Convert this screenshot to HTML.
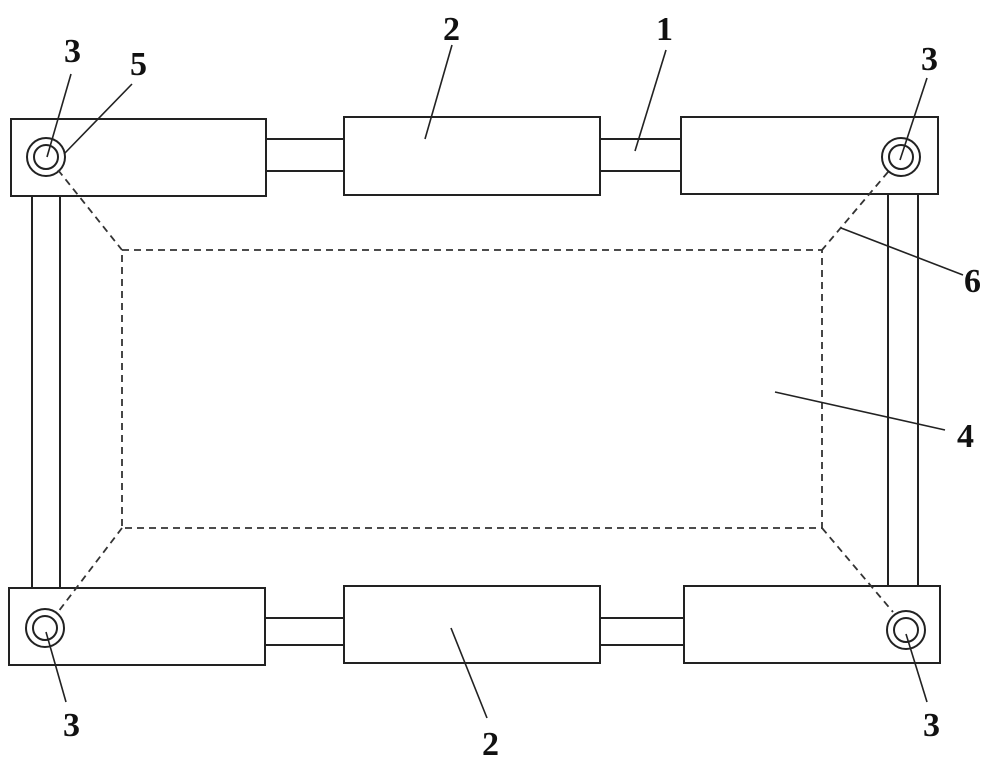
<!DOCTYPE html>
<html><head><style>
html,body{margin:0;padding:0;background:#fff;}
svg{display:block}
text{font-family:"Liberation Serif",serif;font-weight:bold;font-size:34px;fill:#111}
</style></head><body>
<svg width="1000" height="764" viewBox="0 0 1000 764">
<g fill="none" stroke="#222" stroke-width="2">
<!-- top -->
<rect x="11" y="119" width="255" height="77"/>
<rect x="344" y="117" width="256" height="78"/>
<rect x="681" y="117" width="257" height="77"/>
<line x1="266" y1="139" x2="344" y2="139"/><line x1="266" y1="171" x2="344" y2="171"/>
<line x1="600" y1="139" x2="681" y2="139"/><line x1="600" y1="171" x2="681" y2="171"/>
<!-- bottom -->
<rect x="9" y="588" width="256" height="77"/>
<rect x="344" y="586" width="256" height="77"/>
<rect x="684" y="586" width="256" height="77"/>
<line x1="265" y1="618" x2="344" y2="618"/><line x1="265" y1="645" x2="344" y2="645"/>
<line x1="600" y1="618" x2="684" y2="618"/><line x1="600" y1="645" x2="684" y2="645"/>
<!-- side rods -->
<line x1="32" y1="196" x2="32" y2="588"/><line x1="60" y1="196" x2="60" y2="588"/>
<line x1="888" y1="194" x2="888" y2="586"/><line x1="918" y1="194" x2="918" y2="586"/>
<!-- circles -->
<circle cx="46" cy="157" r="19"/><circle cx="46" cy="157" r="12"/>
<circle cx="901" cy="157" r="19"/><circle cx="901" cy="157" r="12"/>
<circle cx="45" cy="628" r="19"/><circle cx="45" cy="628" r="12"/>
<circle cx="906" cy="630" r="19"/><circle cx="906" cy="630" r="12"/>
</g>
<g fill="none" stroke="#333" stroke-width="1.8" stroke-dasharray="7,5">
<rect x="122" y="250" width="700" height="278"/>
<line x1="58" y1="170" x2="122" y2="250"/>
<line x1="888" y1="172" x2="822" y2="250"/>
<line x1="122" y1="528" x2="58" y2="612"/>
<line x1="822" y1="528" x2="893" y2="612"/>
</g>
<g stroke="#222" stroke-width="1.6">
<line x1="71" y1="74" x2="47" y2="157"/>
<line x1="132" y1="84" x2="64" y2="154"/>
<line x1="452" y1="45" x2="425" y2="139"/>
<line x1="666" y1="50" x2="635" y2="151"/>
<line x1="927" y1="78" x2="900" y2="160"/>
<line x1="841" y1="228" x2="963" y2="275"/>
<line x1="775" y1="392" x2="945" y2="430"/>
<line x1="46" y1="632" x2="66" y2="702"/>
<line x1="451" y1="628" x2="487" y2="718"/>
<line x1="906" y1="634" x2="927" y2="702"/>
</g>
<text x="64" y="62">3</text>
<text x="130" y="75">5</text>
<text x="443" y="40">2</text>
<text x="656" y="40">1</text>
<text x="921" y="70">3</text>
<text x="964" y="292">6</text>
<text x="957" y="447">4</text>
<text x="63" y="736">3</text>
<text x="482" y="755">2</text>
<text x="923" y="736">3</text>
</svg>
</body></html>
